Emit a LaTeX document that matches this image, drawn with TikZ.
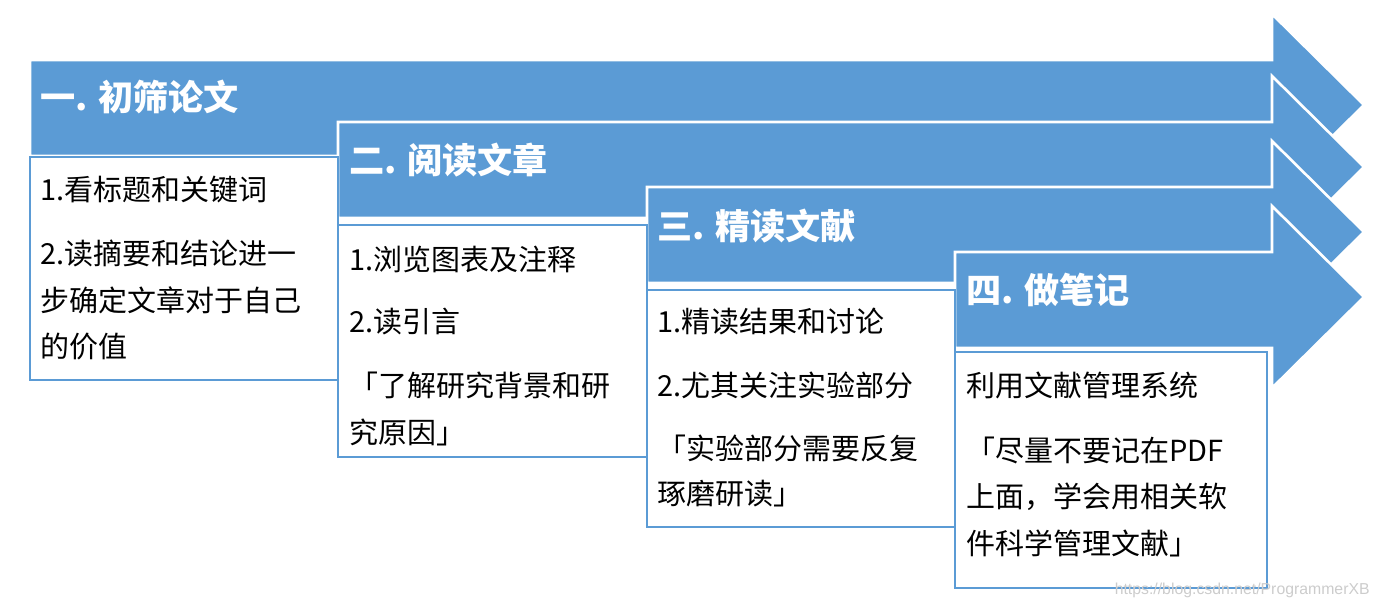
\documentclass[tikz,border=0pt]{standalone}
\usepackage{fontspec}
\setmainfont{Noto Sans CJK SC}
\newfontfamily\wm{Liberation Sans}
\definecolor{ablue}{HTML}{5B9BD5}
\begin{document}
\begin{tikzpicture}[x=0.02cm,y=-0.02cm,
  arr/.style={fill=ablue,draw=white,line width=1.5pt,line join=miter},
  bx/.style={fill=white,draw=ablue,line width=1.5pt},
  ttl/.style={anchor=west,text=white,font=\fontsize{20}{24}\selectfont\bfseries,inner sep=0pt},
  txt/.style={anchor=west,text=black,font=\fontsize{16.5}{20}\selectfont,inner sep=0pt}]
\useasboundingbox (0,0) rectangle (1374,606);
\foreach \x/\y in {30/60,338/122,647/187,955/252}{
  \draw[arr] (\x,\y) -- (1272,\y) -- (1272,\y-46) -- (1364,\y+45) -- (1272,\y+136) -- (1272,\y+96) -- (\x,\y+96) -- cycle;
}
\draw[bx] (30,157) rectangle (338,380);
\draw[bx] (338,225) rectangle (647,457);
\draw[bx] (647,290) rectangle (955,527);
\draw[bx] (955,352) rectangle (1267,588);
\node[ttl] (t1) at (40,97) {一. 初筛论文};
\node[ttl] (t2) at (349,160) {二. 阅读文章};
\node[ttl] (t3) at (657,226) {三. 精读文献};
\node[ttl] (t4) at (966,290) {四. 做笔记};
\node[txt] (a1) at (40,190) {1.看标题和关键词};
\node[txt] (a2) at (40,253) {2.读摘要和结论进一};
\node[txt] (a3) at (40,300) {步确定文章对于自己};
\node[txt] (a4) at (40,347) {的价值};
\node[txt] (b1) at (349,259) {1.浏览图表及注释};
\node[txt] (b2) at (349,322) {2.读引言};
\node[txt] (b3) at (349,385) {「了解研究背景和研};
\node[txt] (b4) at (349,432) {究原因」};
\node[txt] (c1) at (657,322) {1.精读结果和讨论};
\node[txt] (c2) at (657,385) {2.尤其关注实验部分};
\node[txt] (c3) at (657,448) {「实验部分需要反复};
\node[txt] (c4) at (657,494) {琢磨研读」};
\node[txt] (d1) at (966,385) {利用文献管理系统};
\node[txt] (d2) at (966,450) {「尽量不要记在PDF};
\node[txt] (d3) at (966,497) {上面，学会用相关软};
\node[txt] (d4) at (966,543) {件科学管理文献」};
\node[anchor=east,inner sep=0pt,text=black!20,font=\wm\fontsize{9}{10}\selectfont] (wm) at (1370,590) {https://blog.csdn.net/ProgrammerXB};
\end{tikzpicture}
\end{document}
